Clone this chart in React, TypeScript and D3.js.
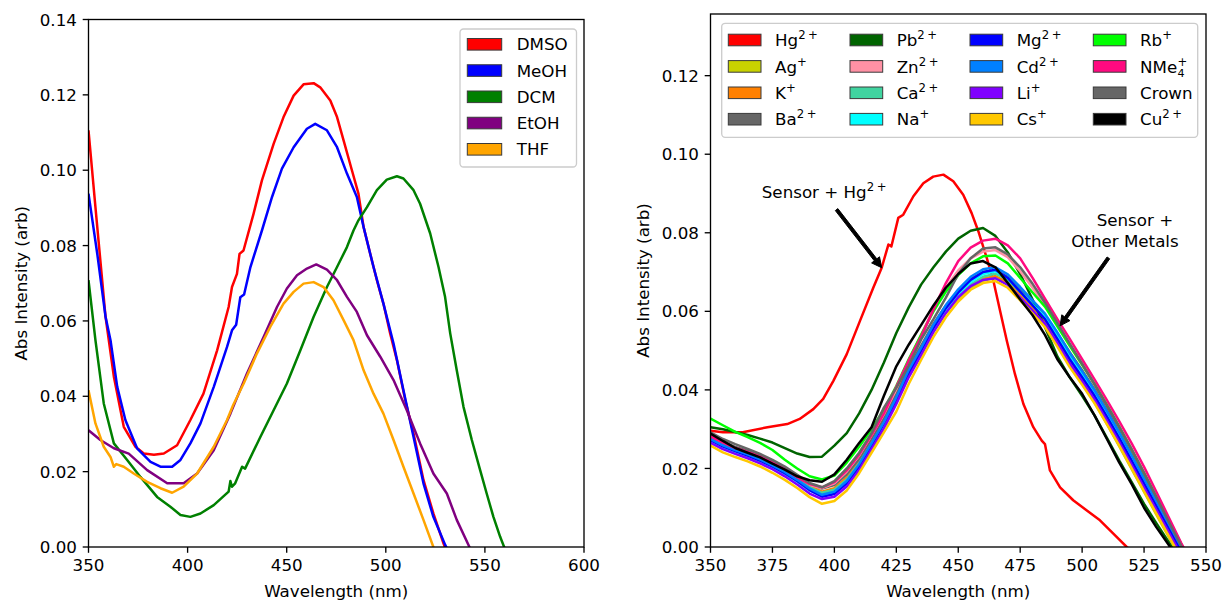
import React from 'react';
import * as d3 from 'd3';

const FONT = "'DejaVu Sans', sans-serif";
const FS = 16.7;
const SUP = 11.7;

// ---------------- Left panel: solvents ----------------
const DMSO_WL = [350, 353.5, 358.6, 362.8, 367.8, 373.7, 377.9, 383, 388, 394.7, 401.4, 408, 414.9, 420.7, 422.4, 424.9, 426.2, 428.2, 433.3, 437.5, 443.4, 448.4, 453.5, 458.5, 463.6, 466.9, 472, 475.4, 478.7, 482.9, 486.2, 488.8, 492.1, 495.5, 498.8, 502.2, 505.6, 509.8, 514, 519, 524, 529.1, 530.5];
const DMSO_ABS = [0.1106, 0.0902, 0.0611, 0.0452, 0.0319, 0.0266, 0.0248, 0.0245, 0.0248, 0.027, 0.0337, 0.0407, 0.0522, 0.0637, 0.069, 0.0725, 0.0778, 0.0787, 0.0885, 0.0973, 0.107, 0.1141, 0.1198, 0.1228, 0.1231, 0.122, 0.1185, 0.1141, 0.1079, 0.1, 0.0938, 0.0849, 0.0779, 0.0708, 0.0646, 0.0567, 0.0496, 0.039, 0.0301, 0.0178, 0.0089, 0.001, -0.001];

const MEOH_WL = [350, 354.4, 358.6, 361.1, 364.5, 368.6, 374.5, 381.3, 386.3, 392.2, 396.4, 401.4, 406.5, 413.2, 419.9, 422.4, 424.5, 426.6, 428.5, 431.7, 437.5, 442.6, 447.6, 453.5, 460.2, 464.4, 470.3, 475.4, 480.4, 485.4, 488.8, 493.8, 498.8, 503.9, 508.9, 514, 519, 524, 530, 531.5];
const MEOH_ABS = [0.0938, 0.0779, 0.0611, 0.0549, 0.0425, 0.0337, 0.0262, 0.0226, 0.0213, 0.0213, 0.0231, 0.0275, 0.0328, 0.0425, 0.0531, 0.0575, 0.059, 0.0663, 0.067, 0.0743, 0.084, 0.0929, 0.1004, 0.1061, 0.111, 0.1123, 0.1106, 0.1061, 0.0991, 0.0929, 0.0849, 0.0743, 0.0646, 0.054, 0.0416, 0.0292, 0.0169, 0.008, 0.0005, -0.001];

const DCM_WL = [350, 353.5, 357.7, 362.8, 369.5, 376.2, 384.6, 391.3, 396.4, 401.4, 406.5, 413.2, 420.7, 421.6, 422.4, 424, 427.5, 429, 436.7, 443.4, 450.1, 456.9, 463.6, 470.3, 475.4, 480.4, 483.7, 486.2, 490.5, 495.5, 500.5, 505.6, 508.9, 514, 517.3, 522.4, 526.6, 529.9, 532.5, 535.8, 539.2, 543.4, 547.6, 550.9, 554.3, 557.7, 559.7, 561];
const DCM_ABS = [0.0708, 0.0549, 0.0381, 0.0275, 0.0231, 0.0186, 0.0133, 0.0107, 0.0085, 0.008, 0.0089, 0.0111, 0.0147, 0.0175, 0.016, 0.0169, 0.0213, 0.0208, 0.0292, 0.0363, 0.0434, 0.0522, 0.0611, 0.069, 0.0743, 0.0796, 0.084, 0.0867, 0.0902, 0.0947, 0.0975, 0.0984, 0.0978, 0.0947, 0.0911, 0.0832, 0.0743, 0.0664, 0.0567, 0.0469, 0.0372, 0.0284, 0.0204, 0.0142, 0.008, 0.0027, 0.0, -0.001];

const ETOH_WL = [350, 356, 362.8, 370.3, 379.6, 389.7, 398, 404.8, 413.2, 421.6, 430, 438.4, 445.1, 450.1, 455.2, 460.2, 464.9, 470.3, 475.4, 480.4, 485.4, 490.5, 497.2, 503.9, 510.6, 517.3, 524, 530.8, 535.8, 542.2, 543];
const ETOH_ABS = [0.031, 0.0284, 0.0262, 0.0248, 0.0204, 0.0169, 0.0169, 0.0195, 0.0257, 0.0354, 0.0461, 0.0558, 0.0637, 0.0686, 0.0721, 0.0739, 0.075, 0.0736, 0.0708, 0.0664, 0.0624, 0.0562, 0.0505, 0.0443, 0.0363, 0.0275, 0.0195, 0.0142, 0.0072, 0.0, -0.001];

const THF_WL = [350, 353.5, 357.7, 361.1, 362.8, 364, 367.8, 372.8, 379.6, 386.3, 392.2, 398, 404.8, 413.2, 419.9, 423, 428.3, 435, 441.7, 448.4, 453.5, 458.5, 463.6, 468.6, 473.6, 478.7, 483.7, 488.8, 493.8, 498.8, 503.9, 508.9, 514, 519, 524, 525];
const THF_ABS = [0.0416, 0.0328, 0.0266, 0.0239, 0.0213, 0.022, 0.0213, 0.0195, 0.0173, 0.0156, 0.0144, 0.016, 0.0195, 0.0266, 0.0337, 0.0377, 0.0434, 0.0514, 0.0584, 0.0646, 0.0677, 0.0699, 0.0703, 0.069, 0.0655, 0.0602, 0.0549, 0.0469, 0.0407, 0.0354, 0.0284, 0.0213, 0.0142, 0.0072, 0.0, -0.001];

const SOLVENTS = ['DMSO', 'MeOH', 'DCM', 'EtOH', 'THF'];
const SOLVENT_COLORS = ['#ff0000', '#0000ff', '#008000', '#800080', '#ffa500'];
const SOLVENT_WL = [DMSO_WL, MEOH_WL, DCM_WL, ETOH_WL, THF_WL];
const SOLVENT_ABS = [DMSO_ABS, MEOH_ABS, DCM_ABS, ETOH_ABS, THF_ABS];

const LEFT_X_TICKS = [350, 400, 450, 500, 550, 600];
const LEFT_Y_TICKS = [0, 0.02, 0.04, 0.06, 0.08, 0.1, 0.12, 0.14];

// ---------------- Right panel: metal ions ----------------
const HG_WL = [350, 355, 363, 373, 381, 386, 391.5, 395.5, 399.6, 405, 410.3, 415.7, 419.1, 421.8, 423, 425.8, 427.8, 431.9, 435.9, 439.9, 444, 448, 452, 455.4, 458.1, 461.5, 464.2, 466.9, 469.6, 472.9, 476.3, 480.3, 483.7, 485, 487, 491.1, 496.4, 501.9, 507.2, 512.6, 518, 520];
const HG_ABS = [0.0296, 0.0292, 0.0292, 0.0305, 0.0313, 0.0326, 0.0351, 0.0377, 0.0423, 0.0491, 0.0575, 0.066, 0.0711, 0.077, 0.0765, 0.0838, 0.0846, 0.0893, 0.0926, 0.0943, 0.0948, 0.0931, 0.0897, 0.085, 0.0804, 0.0736, 0.0677, 0.0601, 0.0525, 0.044, 0.0364, 0.0305, 0.0271, 0.0262, 0.0195, 0.0152, 0.0119, 0.0093, 0.0068, 0.0034, 0.0, -0.001];

const GRID_WL = [350, 355, 360, 365, 370, 375, 380, 385, 390, 395, 400, 405, 410, 415, 420, 425, 430, 435, 440, 445, 450, 455, 460, 465, 470, 475, 480, 485, 490, 495, 500, 505, 510, 515, 520, 525, 530, 535, 540, 545];

const AG_ABS = [0.0276, 0.0259, 0.0247, 0.0236, 0.0223, 0.0208, 0.0191, 0.0171, 0.015, 0.0136, 0.0144, 0.017, 0.021, 0.026, 0.0312, 0.0372, 0.0438, 0.0492, 0.0549, 0.0596, 0.0633, 0.066, 0.0678, 0.0686, 0.067, 0.0637, 0.0601, 0.0565, 0.0516, 0.0464, 0.0418, 0.0368, 0.0313, 0.0256, 0.0198, 0.014, 0.0082, 0.0025, -0.003, -0.009];
const K_ABS = [0.028, 0.0263, 0.025, 0.024, 0.0228, 0.0213, 0.0196, 0.0176, 0.0155, 0.0141, 0.015, 0.0177, 0.0216, 0.0266, 0.0318, 0.0378, 0.0444, 0.0497, 0.0553, 0.06, 0.0637, 0.0664, 0.0683, 0.069, 0.0673, 0.0641, 0.0607, 0.0573, 0.0526, 0.0475, 0.0429, 0.0381, 0.0327, 0.0271, 0.0213, 0.0155, 0.0097, 0.004, -0.0018, -0.008];
const BA_ABS = [0.0285, 0.0268, 0.0255, 0.0245, 0.0233, 0.0218, 0.0201, 0.0181, 0.016, 0.0149, 0.0158, 0.0185, 0.0224, 0.0274, 0.0328, 0.039, 0.0456, 0.0512, 0.0568, 0.0615, 0.0653, 0.0682, 0.07, 0.0704, 0.0688, 0.0656, 0.0623, 0.059, 0.0545, 0.0496, 0.045, 0.0402, 0.0349, 0.0293, 0.0235, 0.0177, 0.0119, 0.0061, 0.0003, -0.006];
const PB_ABS = [0.0305, 0.03, 0.0293, 0.0285, 0.0276, 0.0266, 0.0252, 0.0238, 0.0229, 0.023, 0.0258, 0.029, 0.034, 0.04, 0.047, 0.0545, 0.061, 0.0668, 0.0712, 0.0752, 0.0785, 0.0805, 0.0812, 0.0792, 0.075, 0.0695, 0.063, 0.056, 0.0485, 0.0432, 0.0385, 0.0335, 0.0278, 0.022, 0.0165, 0.011, 0.006, 0.0012, -0.004, -0.009];
const ZN_ABS = [0.028, 0.0264, 0.0251, 0.024, 0.0228, 0.0213, 0.0196, 0.0177, 0.0158, 0.015, 0.0162, 0.0192, 0.0233, 0.0284, 0.0338, 0.0402, 0.0472, 0.054, 0.0605, 0.066, 0.0704, 0.0735, 0.0752, 0.0756, 0.0738, 0.0702, 0.066, 0.0615, 0.0565, 0.0515, 0.0466, 0.0416, 0.0362, 0.0307, 0.025, 0.019, 0.0128, 0.0066, 0.0005, -0.0055];
const CA_ABS = [0.0278, 0.0262, 0.0249, 0.0238, 0.0225, 0.021, 0.0193, 0.0173, 0.0152, 0.0138, 0.0146, 0.0172, 0.0213, 0.0264, 0.0316, 0.0377, 0.0444, 0.0498, 0.0555, 0.0602, 0.064, 0.0668, 0.0688, 0.0696, 0.0681, 0.0649, 0.0616, 0.0583, 0.0537, 0.0487, 0.0442, 0.0395, 0.0342, 0.0287, 0.0229, 0.0171, 0.0113, 0.0055, -0.0002, -0.006];
const NA_ABS = [0.027, 0.0254, 0.0242, 0.0231, 0.0218, 0.0203, 0.0186, 0.0166, 0.0144, 0.013, 0.0138, 0.0164, 0.0206, 0.0258, 0.0311, 0.0373, 0.0442, 0.0497, 0.0556, 0.0605, 0.0645, 0.0675, 0.0695, 0.0702, 0.0684, 0.0651, 0.0618, 0.0585, 0.0537, 0.0486, 0.044, 0.0392, 0.0339, 0.0284, 0.0226, 0.0168, 0.011, 0.0052, -0.0005, -0.0065];
const MG_ABS = [0.0272, 0.0256, 0.0244, 0.0233, 0.022, 0.0205, 0.0188, 0.0168, 0.0145, 0.0128, 0.0135, 0.0162, 0.0205, 0.0258, 0.0315, 0.0372, 0.044, 0.05, 0.0558, 0.0608, 0.0648, 0.068, 0.07, 0.0706, 0.0685, 0.065, 0.0615, 0.058, 0.053, 0.0478, 0.0432, 0.0385, 0.0332, 0.0277, 0.022, 0.0162, 0.0105, 0.0048, -0.001, -0.007];
const CD_ABS = [0.0275, 0.0259, 0.0247, 0.0236, 0.0223, 0.0208, 0.0191, 0.0171, 0.0149, 0.0133, 0.0141, 0.0168, 0.0211, 0.0264, 0.0318, 0.0381, 0.0451, 0.0507, 0.0566, 0.0616, 0.0656, 0.0688, 0.0707, 0.0712, 0.0694, 0.0662, 0.0628, 0.0594, 0.0546, 0.0494, 0.0447, 0.0399, 0.0346, 0.0291, 0.0233, 0.0174, 0.0116, 0.0058, 0.0, -0.006];
const LI_ABS = [0.0265, 0.0249, 0.0237, 0.0226, 0.0213, 0.0198, 0.018, 0.0159, 0.0136, 0.0122, 0.0128, 0.0154, 0.0196, 0.0249, 0.0302, 0.0364, 0.0432, 0.0488, 0.0547, 0.0596, 0.0636, 0.0664, 0.068, 0.0684, 0.0667, 0.0635, 0.0602, 0.0568, 0.0519, 0.0467, 0.0422, 0.0375, 0.0322, 0.0267, 0.0209, 0.0151, 0.0094, 0.0037, -0.002, -0.008];
const CS_ABS = [0.0258, 0.0241, 0.0229, 0.0218, 0.0205, 0.0189, 0.0171, 0.015, 0.0127, 0.011, 0.0117, 0.0144, 0.0188, 0.024, 0.0292, 0.0345, 0.0415, 0.0476, 0.0535, 0.0585, 0.0625, 0.0655, 0.0672, 0.0677, 0.066, 0.0628, 0.0594, 0.056, 0.051, 0.0458, 0.0413, 0.0366, 0.0313, 0.0258, 0.02, 0.0142, 0.0085, 0.0028, -0.003, -0.009];
const RB_ABS = [0.0327, 0.031, 0.0293, 0.028, 0.0265, 0.0247, 0.0222, 0.02, 0.018, 0.0172, 0.0182, 0.0215, 0.0255, 0.03, 0.035, 0.041, 0.0478, 0.054, 0.06, 0.065, 0.0692, 0.0722, 0.074, 0.0742, 0.0722, 0.0685, 0.0648, 0.0612, 0.0562, 0.0512, 0.0464, 0.0415, 0.0362, 0.0306, 0.0248, 0.0188, 0.0128, 0.0068, 0.0008, -0.005];
const NME4_ABS = [0.0282, 0.0266, 0.0252, 0.0242, 0.023, 0.0215, 0.0198, 0.0178, 0.016, 0.0152, 0.0165, 0.0195, 0.0235, 0.0285, 0.034, 0.0408, 0.0475, 0.0535, 0.0605, 0.0672, 0.0728, 0.0762, 0.078, 0.0785, 0.0768, 0.0735, 0.0685, 0.0632, 0.058, 0.053, 0.0478, 0.0427, 0.0374, 0.032, 0.0264, 0.0204, 0.014, 0.0075, 0.001, -0.005];
const CROWN_ABS = [0.0292, 0.0275, 0.0262, 0.025, 0.0237, 0.0222, 0.0205, 0.0184, 0.0163, 0.0152, 0.0168, 0.02, 0.024, 0.029, 0.0355, 0.0405, 0.0462, 0.0528, 0.058, 0.0635, 0.0695, 0.0735, 0.076, 0.0763, 0.0745, 0.0712, 0.067, 0.0622, 0.057, 0.0518, 0.0466, 0.0414, 0.036, 0.0305, 0.0248, 0.0188, 0.0126, 0.0064, 0.0003, -0.006];
const CU_ABS = [0.0289, 0.027, 0.0252, 0.024, 0.0228, 0.0212, 0.0197, 0.018, 0.017, 0.0166, 0.0185, 0.0222, 0.0265, 0.0305, 0.0385, 0.046, 0.0515, 0.0565, 0.0615, 0.066, 0.0695, 0.0722, 0.0728, 0.0712, 0.0672, 0.063, 0.059, 0.054, 0.0478, 0.0432, 0.039, 0.0335, 0.0275, 0.0215, 0.016, 0.01, 0.005, 0.0005, -0.005, -0.01];

// legend order (column-major, 4 columns) = drawing order
const IONS = ['Hg', 'Ag', 'K', 'Ba', 'Pb', 'Zn', 'Ca', 'Na', 'Mg', 'Cd', 'Li', 'Cs', 'Rb', 'NMe', 'Crown', 'Cu'];
const ION_SUP = ['2+', '+', '+', '2+', '2+', '2+', '2+', '+', '2+', '2+', '+', '+', '+', '+', '', '2+'];
const ION_SUB = ['', '', '', '', '', '', '', '', '', '', '', '', '', '4', '', ''];
const ION_COLORS = ['#ff0000', '#c8d200', '#ff8000', '#666666', '#006400', '#ff91a4', '#40d4a0', '#00ffff', '#0000ff', '#0080ff', '#8000ff', '#ffc800', '#00ff00', '#ff0a80', '#666666', '#000000'];
const ION_ABS = [HG_ABS, AG_ABS, K_ABS, BA_ABS, PB_ABS, ZN_ABS, CA_ABS, NA_ABS, MG_ABS, CD_ABS, LI_ABS, CS_ABS, RB_ABS, NME4_ABS, CROWN_ABS, CU_ABS];

const RIGHT_X_TICKS = [350, 375, 400, 425, 450, 475, 500, 525, 550];
const RIGHT_Y_TICKS = [0, 0.02, 0.04, 0.06, 0.08, 0.1, 0.12];

// annotations: text positions and arrows in data coords
const HG_TEXT_POS = [370.7, 0.0889];
const HG_ARROW = [[400.9, 0.0859], [419.1, 0.0711]];
const OTHER_TEXT_POS = [[521.3, 0.0817], [517.3, 0.0764]];
const OTHER_ARROW = [[510.6, 0.0736], [491.1, 0.0563]];

// ---------------- geometry ----------------
const L = { x0: 88.5, x1: 584, y0: 547, y1: 19.5 };
const R = { x0: 710.5, x1: 1206, y0: 547, y1: 14 };
const TICK = 5.8;

const xL = d3.scaleLinear().domain([350, 600]).range([L.x0, L.x1]);
const yL = d3.scaleLinear().domain([0, 0.14]).range([L.y0, L.y1]);
const xR = d3.scaleLinear().domain([350, 550]).range([R.x0, R.x1]);
const yR = d3.scaleLinear().domain([0, 0.1357]).range([R.y0, R.y1]);

function linePath(xs: number[], ys: number[], sx: any, sy: any) {
  const pts = xs.map((x, i) => [x, ys[i]] as [number, number]);
  return d3.line<[number, number]>().x(d => sx(d[0])).y(d => sy(d[1]))(pts) || '';
}

function Axes({ box, sx, sy, xticks, yticks }: any) {
  const w = 1.33;
  return (
    <g>
      {xticks.map((t: number) => (
        <g key={'x' + t}>
          <line x1={sx(t)} x2={sx(t)} y1={box.y0} y2={box.y0 + TICK} stroke="#000" strokeWidth={w} />
          <text x={sx(t)} y={box.y0 + TICK + 5.8 + 12.3} textAnchor="middle" fontSize={FS} fontFamily={FONT}>{t}</text>
        </g>
      ))}
      {yticks.map((t: number) => (
        <g key={'y' + t}>
          <line x1={box.x0 - TICK} x2={box.x0} y1={sy(t)} y2={sy(t)} stroke="#000" strokeWidth={w} />
          <text x={box.x0 - TICK - 5.8} y={sy(t) + 6.1} textAnchor="end" fontSize={FS} fontFamily={FONT}>{t.toFixed(2)}</text>
        </g>
      ))}
      <rect x={box.x0} y={box.y1} width={box.x1 - box.x0} height={box.y0 - box.y1} fill="none" stroke="#000" strokeWidth={w} />
      <text x={(box.x0 + box.x1) / 2} y={597} textAnchor="middle" fontSize={FS} fontFamily={FONT}>Wavelength (nm)</text>
      <text transform={`translate(${box.x0 - 62},${(box.y0 + box.y1) / 2}) rotate(-90)`} textAnchor="middle" fontSize={FS} fontFamily={FONT}>Abs Intensity (arb)</text>
    </g>
  );
}

function IonLabel({ x, y, name, sup, sub }: any) {
  if (sub) {
    // base text, then superscript and subscript stacked at the same x
    const baseW = 3.0 * FS * 0.0 + 37.5; // width of "NMe" in DejaVu Sans at 16.7px
    return (
      <g>
        <text x={x} y={y} fontSize={FS} fontFamily={FONT}>{name}</text>
        <text x={x + baseW} y={y - 7} fontSize={SUP} fontFamily={FONT}>{sup}</text>
        <text x={x + baseW} y={y + 4} fontSize={SUP * 0.95} fontFamily={FONT}>{sub}</text>
      </g>
    );
  }
  if (sup === '2+') {
    return (
      <text x={x} y={y} fontSize={FS} fontFamily={FONT}>
        {name}
        <tspan dy={-7} fontSize={SUP}>2</tspan>
        <tspan dx={2.5} fontSize={SUP}>+</tspan>
      </text>
    );
  }
  if (sup === '+') {
    return (
      <text x={x} y={y} fontSize={FS} fontFamily={FONT}>
        {name}
        <tspan dy={-7} fontSize={SUP}>+</tspan>
      </text>
    );
  }
  return <text x={x} y={y} fontSize={FS} fontFamily={FONT}>{name}</text>;
}

function Arrow({ from, to, sx, sy }: any) {
  const x1 = sx(from[0]), y1 = sy(from[1]);
  const x2 = sx(to[0]), y2 = sy(to[1]);
  const dx = x2 - x1, dy = y2 - y1;
  const len = Math.hypot(dx, dy);
  const ux = dx / len, uy = dy / len;
  const px = -uy, py = ux;
  const hl = 10, hw = 5, sw = 1.6;
  const bx = x2 - ux * hl, by = y2 - uy * hl;
  const pts = [
    [x1 + px * sw, y1 + py * sw],
    [bx + px * sw, by + py * sw],
    [bx + px * hw, by + py * hw],
    [x2, y2],
    [bx - px * hw, by - py * hw],
    [bx - px * sw, by - py * sw],
    [x1 - px * sw, y1 - py * sw],
  ];
  return <polygon points={pts.map(p => p.join(',')).join(' ')} fill="#000" stroke="#000" strokeWidth={1} strokeLinejoin="miter" />;
}

export default function App() {
  const leftRowY = (i: number) => 44.3 + i * 26.25;
  const rightRowY = (i: number) => 40 + i * 26.4;
  const rightPatchX = [728.3, 850, 970, 1093.3];
  const rightLabelX = [775, 896.7, 1016.7, 1140];

  return (
    <svg width={1223} height={602} style={{ position: 'absolute', left: 0, top: 0, background: '#fff' }} fontFamily={FONT}>
      <defs>
        <clipPath id="clipL"><rect x={L.x0} y={L.y1} width={L.x1 - L.x0} height={L.y0 - L.y1} /></clipPath>
        <clipPath id="clipR"><rect x={R.x0} y={R.y1} width={R.x1 - R.x0} height={R.y0 - R.y1} /></clipPath>
      </defs>
      <rect x={0} y={0} width={1223} height={602} fill="#fff" />

      {/* Left panel lines */}
      <g clipPath="url(#clipL)">
        {SOLVENTS.map((s, i) => (
          <path key={s} d={linePath(SOLVENT_WL[i], SOLVENT_ABS[i], xL, yL)} fill="none" stroke={SOLVENT_COLORS[i]} strokeWidth={2.5} strokeLinejoin="round" strokeLinecap="butt" />
        ))}
      </g>
      <Axes box={L} sx={xL} sy={yL} xticks={LEFT_X_TICKS} yticks={LEFT_Y_TICKS} />

      {/* Left legend */}
      <g>
        <rect x={460} y={29} width={116.5} height={138} rx={3.5} fill="#fff" fillOpacity={0.8} stroke="#cccccc" strokeWidth={1.33} />
        {SOLVENTS.map((s, i) => (
          <g key={s}>
            <rect x={467.3} y={leftRowY(i) - 5.8} width={34.4} height={11.6} fill={SOLVENT_COLORS[i]} stroke="#3a3a3a" strokeWidth={1} />
            <text x={516.7} y={leftRowY(i) + 6.1} fontSize={FS} fontFamily={FONT}>{s}</text>
          </g>
        ))}
      </g>

      {/* Right panel lines */}
      <g clipPath="url(#clipR)">
        {IONS.map((n, i) => (
          <path key={n + i}
            d={i === 0 ? linePath(HG_WL, HG_ABS, xR, yR) : linePath(GRID_WL, ION_ABS[i], xR, yR)}
            fill="none" stroke={ION_COLORS[i]} strokeWidth={2.5} strokeLinejoin="round" />
        ))}
      </g>
      <Axes box={R} sx={xR} sy={yR} xticks={RIGHT_X_TICKS} yticks={RIGHT_Y_TICKS} />

      {/* Annotations */}
      <text x={xR(HG_TEXT_POS[0])} y={yR(HG_TEXT_POS[1])} fontSize={FS} fontFamily={FONT}>
        Sensor + Hg
        <tspan dy={-7} fontSize={SUP}>2</tspan>
        <tspan dx={2.5} fontSize={SUP}>+</tspan>
      </text>
      <Arrow from={HG_ARROW[0]} to={HG_ARROW[1]} sx={xR} sy={yR} />
      <text x={xR(OTHER_TEXT_POS[0][0])} y={yR(OTHER_TEXT_POS[0][1])} textAnchor="middle" fontSize={FS} fontFamily={FONT}>Sensor +</text>
      <text x={xR(OTHER_TEXT_POS[1][0])} y={yR(OTHER_TEXT_POS[1][1])} textAnchor="middle" fontSize={FS} fontFamily={FONT}>Other Metals</text>
      <Arrow from={OTHER_ARROW[0]} to={OTHER_ARROW[1]} sx={xR} sy={yR} />

      {/* Right legend */}
      <g>
        <rect x={721.7} y={23.3} width={476} height={114} rx={3.5} fill="#fff" fillOpacity={0.8} stroke="#cccccc" strokeWidth={1.33} />
        {IONS.map((n, i) => {
          const col = Math.floor(i / 4);
          const row = i % 4;
          const cy = rightRowY(row);
          return (
            <g key={'lg' + i}>
              <rect x={rightPatchX[col]} y={cy - 5.8} width={32.7} height={11.6} fill={ION_COLORS[i]} stroke="#3a3a3a" strokeWidth={1} />
              <IonLabel x={rightLabelX[col]} y={cy + 6.1} name={n} sup={ION_SUP[i]} sub={ION_SUB[i]} />
            </g>
          );
        })}
      </g>
    </svg>
  );
}
